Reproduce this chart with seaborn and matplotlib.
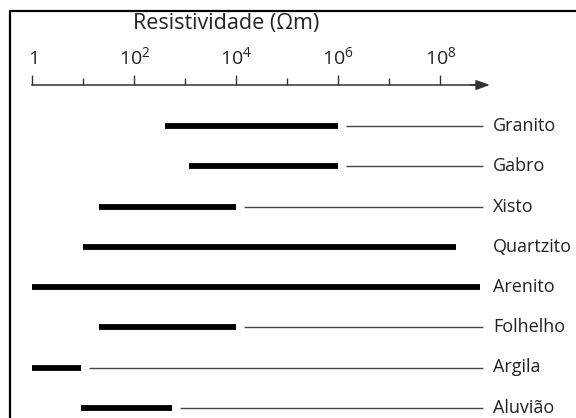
import numpy as np
import pandas as pd
import matplotlib.pyplot as plt
import seaborn as sns
from matplotlib.lines import Line2D

# Faixas de resistividade (Ohm.m) por tipo de rocha
rochas = ['Granito', 'Gabro', 'Xisto', 'Quartzito', 'Arenito', 'Folhelho', 'Argila', 'Aluvião']
res_min = [400, 1.2e3, 20, 10, 1, 20, 1, 9]
res_max = [1e6, 1e6, 1e4, 2e8, 6e8, 1e4, 9, 550]
tem_linha = [True, True, True, False, False, True, True, True]

ticks_maiores = [1, 1e2, 1e4, 1e6, 1e8]
rotulos_ticks = ['1', '10^{2}', '10^{4}', '10^{6}', '10^{8}']
ticks_menores = [10, 1e3, 1e5, 1e7]

PX_DEC = 51.0   # pixels por decada
X0 = 32.3       # pixel do valor 1


def px(p):
    # posicao em pixel -> valor na escala log
    return 10 ** ((p - X0) / PX_DEC)


sns.set_theme(style='white')
plt.rcParams['font.family'] = ['Open Sans', 'DejaVu Sans']
plt.rcParams['mathtext.fontset'] = 'custom'
plt.rcParams['mathtext.rm'] = 'Open Sans'
plt.rcParams['mathtext.it'] = 'Open Sans:italic'
plt.rcParams['mathtext.bf'] = 'Open Sans:bold'

fig = plt.figure(figsize=(5.76, 4.18), dpi=100)
fig.patch.set_facecolor('white')
ax = fig.add_axes([0, 0, 1, 333 / 418])
ax.set_facecolor('white')
ax.set_xscale('log')

n = len(rochas)
df = pd.DataFrame({
    'rocha': rochas * 2,
    'pos': list(range(n)) * 2,
    'res': res_min + res_max,
})
sns.lineplot(data=df, x='res', y='pos', units='rocha', estimator=None, sort=False,
             color='black', lw=4.2, solid_capstyle='butt', legend=False, ax=ax)

# linhas finas ate o nome
for i in range(n):
    if tem_linha[i]:
        ax.hlines(i, res_max[i] * 10 ** (8 / PX_DEC), px(483), color='#444444', lw=1.0)
    ax.text(px(493), i, rochas[i], ha='left', va='center', fontsize=13, color='#222222')

ax.set_xlim(px(0), px(576))
ax.set_ylim((418 - 126) / 40.25, (85 - 126) / 40.25)
ax.set_yticks([])
ax.set_ylabel('')

for s in ['left', 'right', 'bottom']:
    ax.spines[s].set_visible(False)
ax.spines['top'].set_bounds(1, px(482))
ax.spines['top'].set_color('#333333')
ax.spines['top'].set_linewidth(1.1)

ax.xaxis.tick_top()
ax.set_xticks(ticks_maiores, [r'$\mathregular{' + t + '}$' for t in rotulos_ticks])
ax.set_xticks(ticks_menores, [''] * len(ticks_menores), minor=True)
ax.tick_params(axis='x', which='major', direction='out', length=7.5, width=1.0,
               color='#333333', pad=5, labelsize=14, labelcolor='#222222', top=True, bottom=False)
ax.tick_params(axis='x', which='minor', direction='out', length=5, width=1.0,
               color='#333333', top=True, bottom=False)

ax.annotate('', xy=(px(490), 1), xycoords=('data', 'axes fraction'),
            xytext=(px(470), 1), textcoords=('data', 'axes fraction'),
            arrowprops=dict(arrowstyle='-|>,head_length=0.7,head_width=0.25',
                            color='#333333', lw=1.1, shrinkA=0, shrinkB=0),
            annotation_clip=False)

ax.set_xlabel('Resistividade (Ωm)', fontsize=15.5, color='#222222')
ax.xaxis.set_label_position('top')
ax.xaxis.set_label_coords(226 / 576, 1 + (85 - 23) / 333)
ax.xaxis.label.set_va('center')

# moldura
fig.add_artist(Line2D([10 / 576, 10 / 576, 1], [0, 1 - 11 / 418, 1 - 11 / 418],
                      transform=fig.transFigure, color='black', lw=1.6))

fig.savefig('out.png', dpi=100)
